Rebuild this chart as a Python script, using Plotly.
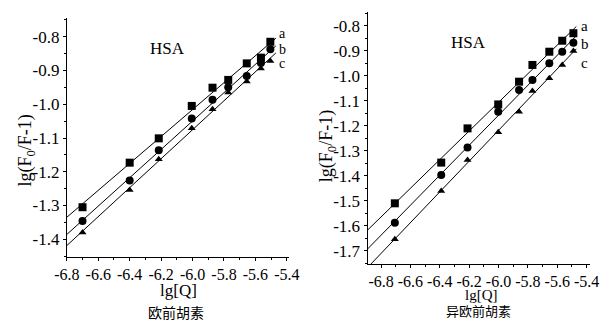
import numpy as np
import plotly.graph_objects as go

# ---------------- data ----------------
# Left panel: 欧前胡素 (HSA)
x_left = [-6.70, -6.40, -6.215, -6.005, -5.873, -5.773, -5.655, -5.565, -5.505]
a_left = [-1.305, -1.173, -1.101, -1.005, -0.951, -0.928, -0.879, -0.862, -0.815]
b_left = [-1.346, -1.226, -1.136, -1.042, -0.987, -0.950, -0.916, -0.878, -0.837]
c_left = [-1.380, -1.254, -1.163, -1.071, -1.015, -0.965, -0.933, -0.894, -0.872]

# Right panel: 异欧前胡素 (HSA)
x_right = [-6.706, -6.39, -6.211, -6.002, -5.86, -5.769, -5.654, -5.566, -5.49]
a_right = [-1.510, -1.347, -1.210, -1.114, -1.023, -0.956, -0.903, -0.859, -0.829]
b_right = [-1.588, -1.397, -1.287, -1.143, -1.056, -1.016, -0.949, -0.903, -0.867]
c_right = [-1.654, -1.461, -1.337, -1.225, -1.143, -1.060, -1.009, -0.956, -0.900]

series_names = ["a", "b", "c"]

# ticks
x_tickvals = [-6.8, -6.6, -6.4, -6.2, -6.0, -5.8, -5.6, -5.4]
x_ticktext = ["-6.8", "-6.6", "-6.4", "-6.2", "-6.0", "-5.8", "-5.6", "-5.4"]
x_minor = [-6.9, -6.7, -6.5, -6.3, -6.1, -5.9, -5.7, -5.5]

yl_tickvals = [-0.8, -0.9, -1.0, -1.1, -1.2, -1.3, -1.4]
yl_ticktext = ["-0.8", "-0.9", "-1.0", "-1.1", "-1.2", "-1.3", "-1.4"]
yl_minor = [-0.75, -0.85, -0.95, -1.05, -1.15, -1.25, -1.35, -1.45]

yr_tickvals = [-0.8, -0.9, -1.0, -1.1, -1.2, -1.3, -1.4, -1.5, -1.6, -1.7]
yr_ticktext = ["-0.8", "-0.9", "-1.0", "-1.1", "-1.2", "-1.3", "-1.4", "-1.5", "-1.6", "-1.7"]
yr_minor = [-0.75, -0.85, -0.95, -1.05, -1.15, -1.25, -1.35, -1.45, -1.55, -1.65, -1.75]

# ---------------- figure ----------------
W, H = 612, 322
SERIF = "Liberation Serif"
CJK = "Noto Sans CJK SC"

def px(xp):
    return xp / W

def py(yp):
    return 1 - yp / H

fig = go.Figure()

symbols = ["square", "circle", "triangle-up"]
sizes = [8, 8, 7]

def add_panel(xs, ys_list, xref, yref, xmin, xend):
    for ys, sym, sz in zip(ys_list, symbols, sizes):
        k, b = np.polyfit(xs, ys, 1)
        lx = np.array([xmin - 0.2, xend])
        fig.add_trace(go.Scatter(x=lx, y=k * lx + b, mode="lines",
                                 line=dict(color="black", width=1),
                                 xaxis=xref, yaxis=yref, showlegend=False,
                                 hoverinfo="skip"))
        fig.add_trace(go.Scatter(x=xs, y=ys, mode="markers",
                                 marker=dict(symbol=sym, size=sz, color="black"),
                                 xaxis=xref, yaxis=yref, showlegend=False,
                                 cliponaxis=False))

add_panel(x_left, [a_left, b_left, c_left], "x", "y", -6.8, -5.47)
add_panel(x_right, [a_right, b_right, c_right], "x2", "y2", -6.9, -5.47)

axis_common = dict(showline=True, linecolor="black", linewidth=1, ticks="outside",
                   ticklen=3, tickcolor="black", showgrid=False, zeroline=False,
                   tickmode="array")
xfont = dict(family=SERIF, size=16, color="black")
yfont = dict(family=SERIF, size=17, color="black")

fig.update_layout(
    width=W, height=H, margin=dict(l=0, r=0, t=0, b=0),
    plot_bgcolor="white", paper_bgcolor="white",
    xaxis=dict(domain=[px(56), px(287)], range=[-6.8, -5.388], anchor="y",
               tickvals=x_tickvals, ticktext=x_ticktext, tickfont=xfont,
               minor=dict(tickvals=x_minor, ticks="outside", ticklen=2, tickcolor="black"),
               **axis_common),
    yaxis=dict(domain=[py(257), py(18)], range=[-1.4524, -0.7446], anchor="x",
               tickvals=yl_tickvals, ticktext=yl_ticktext, tickfont=yfont,
               minor=dict(tickvals=yl_minor, ticks="outside", ticklen=2, tickcolor="black"),
               **axis_common),
    xaxis2=dict(domain=[px(369), px(601)], range=[-6.892, -5.374], anchor="y2",
                tickvals=x_tickvals, ticktext=x_ticktext, tickfont=xfont,
                minor=dict(tickvals=x_minor, ticks="outside", ticklen=2, tickcolor="black"),
                **axis_common),
    yaxis2=dict(domain=[py(264), py(12)], range=[-1.753, -0.744], anchor="x2",
                tickvals=yr_tickvals, ticktext=yr_ticktext, tickfont=yfont,
                minor=dict(tickvals=yr_minor, ticks="outside", ticklen=2, tickcolor="black"),
                **axis_common),
)

ann = []
def text(x, y, s, size, family=SERIF, angle=0, yanchor="middle"):
    ann.append(dict(x=px(x), y=py(y), xref="paper", yref="paper", text=s,
                    showarrow=False, textangle=angle, xanchor="center", yanchor=yanchor,
                    font=dict(family=family, size=size, color="black")))

# panel texts
text(161, 48, "HSA", 17)
text(474, 43, "HSA", 17)
text(14, 150, "lg(F<sub>0</sub>/F-1)", 18, angle=-90)
text(327, 146, "lg(F<sub>0</sub>/F-1)", 18, angle=-90)
text(172, 290, "lg[Q]", 17)
text(488, 295, "lg[Q]", 15)
text(170, 312, "欧前胡素", 14, family=CJK)
text(484, 322, "异欧前胡素", 13, family=CJK, yanchor="bottom")

# series labels
for name, yp in zip(series_names, [34, 49, 64]):
    text(280, yp, name, 14)
for name, yp in zip(series_names, [26, 44, 63]):
    text(595, yp, name, 15)

fig.update_layout(annotations=ann)
fig.write_html("out.html")
